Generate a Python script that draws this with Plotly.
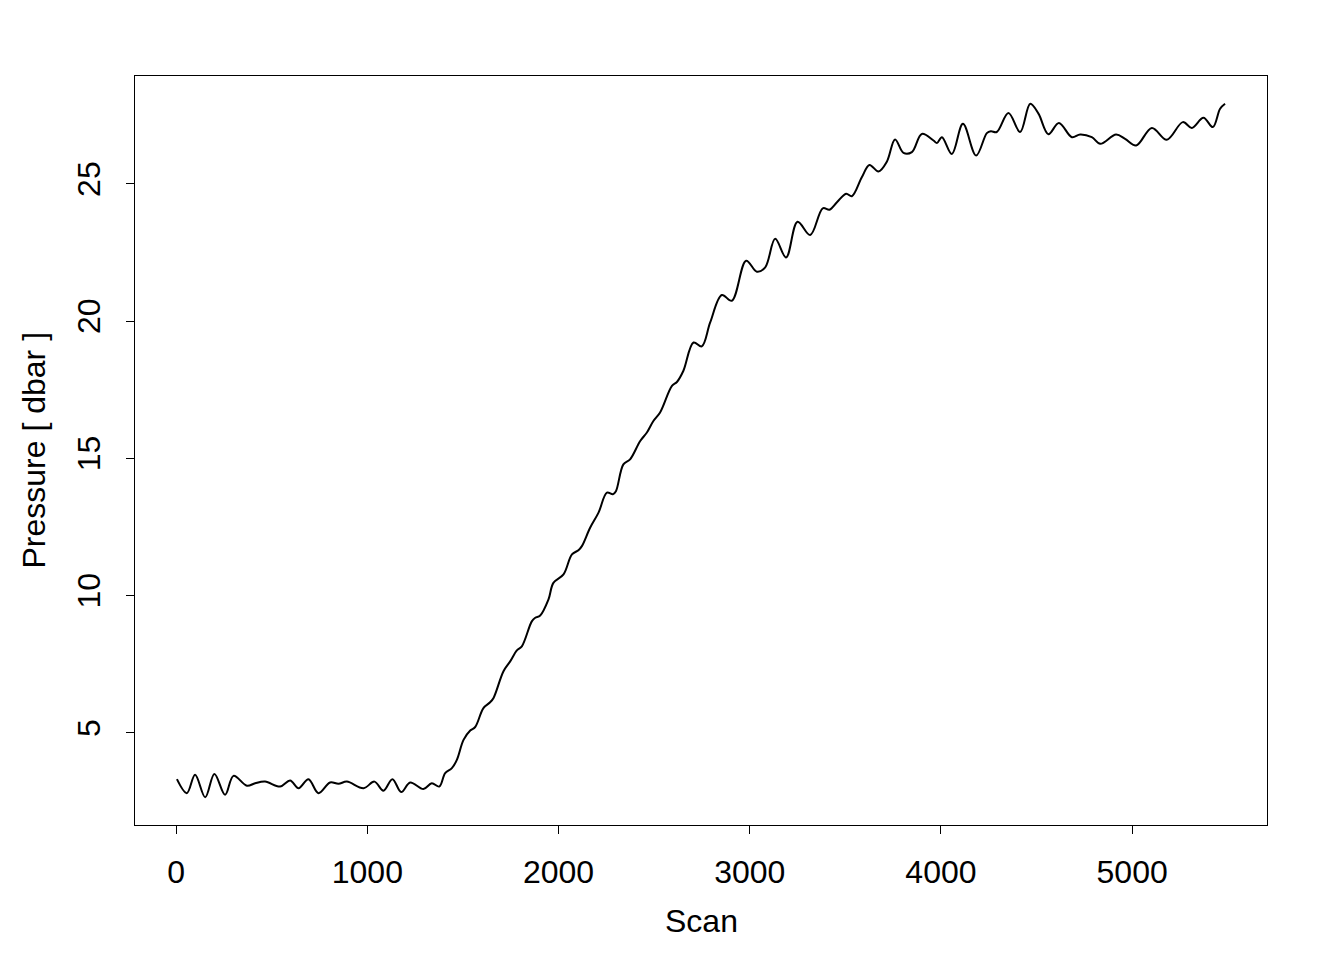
import plotly.graph_objects as go

scan = [4, 56, 99, 152, 200, 256, 300, 370, 413, 465, 544, 596, 640, 692, 744,
        805, 849, 893, 980, 1037, 1084, 1131, 1177, 1224, 1293, 1337, 1376, 1407, 1442, 1468,
        1503, 1538, 1564, 1607, 1642, 1660, 1712, 1747, 1782, 1808, 1860, 1878, 1904, 1947,
        1973, 2026, 2070, 2104, 2122, 2165, 2209, 2253, 2284, 2300, 2339, 2374, 2427, 2462, 2496,
        2531, 2593, 2619, 2653, 2706, 2749, 2793, 2854, 2906, 2981, 3037, 3081, 3133, 3190,
        3250, 3316, 3382, 3417, 3456, 3504, 3534, 3586, 3626, 3673, 3717, 3760, 3804, 3848,
        3900, 3961, 3979, 4005, 4057, 4115, 4184, 4240, 4261, 4292, 4353, 4414, 4467, 4510, 4562, 4617,
        4685, 4728, 4789, 4833, 4916, 4963, 5021, 5103, 5181, 5265, 5312, 5373, 5422, 5460, 5486]
pressure = [3.31, 2.80, 3.47, 2.65, 3.50, 2.74, 3.43, 3.07, 3.16, 3.22, 3.04, 3.26, 2.98, 3.31, 2.80,
            3.19, 3.14, 3.22, 2.98, 3.22, 2.89, 3.31, 2.84, 3.19, 2.95, 3.16, 3.04, 3.53, 3.71, 4.01,
            4.74, 5.08, 5.21, 5.90, 6.11, 6.27, 7.24, 7.60, 8.00, 8.15, 9.06, 9.19, 9.27, 9.85,
            10.46, 10.77, 11.50, 11.65, 11.80, 12.47, 13.02, 13.75, 13.69, 13.80, 14.78, 14.96, 15.63, 15.94, 16.36,
            16.67, 17.64, 17.78, 18.19, 19.22, 19.08, 19.95, 20.95, 20.74, 22.20, 21.80, 21.96, 23.00, 22.32,
            23.62, 23.14, 24.11, 24.06, 24.33, 24.64, 24.55, 25.24, 25.69, 25.45, 25.81, 26.62, 26.13, 26.16,
            26.82, 26.58, 26.49, 26.70, 26.09, 27.19, 26.03, 26.85, 26.92, 26.89, 27.58, 26.89, 27.92, 27.56, 26.81, 27.22,
            26.70, 26.80, 26.70, 26.46, 26.80, 26.64, 26.40, 27.04, 26.61, 27.25, 27.04, 27.41, 27.07, 27.74, 27.92]

x_ticks = [0, 1000, 2000, 3000, 4000, 5000]
y_ticks = [5, 10, 15, 20, 25]

FONT = "Liberation Sans, Arial, sans-serif"

fig = go.Figure()
fig.add_trace(go.Scatter(x=scan, y=pressure, mode="lines",
                         line=dict(color="black", width=2, shape="spline", smoothing=1.0),
                         hoverinfo="skip", showlegend=False))

axis_common = dict(showline=True, mirror=True, linecolor="black", linewidth=1.3,
                   ticks="outside", ticklen=8, tickwidth=1.3, tickcolor="black",
                   showgrid=False, zeroline=False,
                   tickfont=dict(family=FONT, size=32, color="black"))

xmin, xmax = min(scan), max(scan)
ymin, ymax = min(pressure), max(pressure)
dx = (xmax - xmin) * 0.04
dy = (ymax - ymin) * 0.04

fig.update_layout(
    width=1344, height=960,
    paper_bgcolor="white", plot_bgcolor="white",
    margin=dict(l=127, r=85, t=68, b=143),
    xaxis=dict(range=[xmin - dx, xmax + dx], tickvals=x_ticks,
               ticktext=[str(v) for v in x_ticks], ticklabelstandoff=10, **axis_common),
    yaxis=dict(range=[ymin - dy, ymax + dy], tickvals=y_ticks,
               ticktext=[str(v) for v in y_ticks], tickangle=-90, ticklabelstandoff=13, **axis_common),
    annotations=[
        dict(text="Scan", xref="paper", yref="paper", x=0.5, y=0, yshift=-96,
             xanchor="center", yanchor="middle", showarrow=False,
             font=dict(family=FONT, size=32, color="black")),
        dict(text="Pressure [ dbar ]", xref="paper", yref="paper", x=0, y=0.5, xshift=-102,
             xanchor="center", yanchor="middle", textangle=-90, showarrow=False,
             font=dict(family=FONT, size=32, color="black")),
    ],
)

fig.write_html("out.html")
